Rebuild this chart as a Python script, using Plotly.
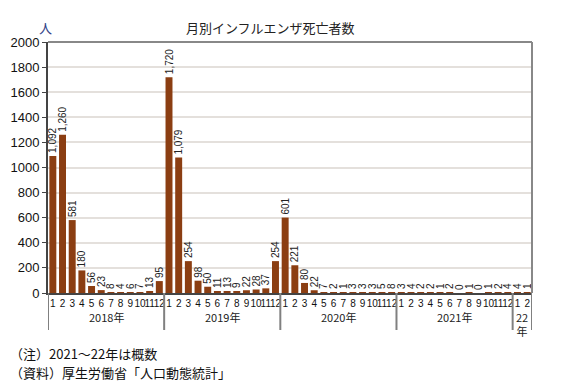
import plotly.graph_objects as go

years = ["2018年", "2019年", "2020年", "2021年", "22<br>年"]
months_per_year = [12, 12, 12, 12, 2]
deaths = [
    1092, 1260, 581, 180, 56, 23, 8, 4, 6, 7, 13, 95,
    1720, 1079, 254, 98, 50, 11, 13, 9, 22, 28, 37, 254,
    601, 221, 80, 22, 7, 2, 1, 3, 3, 3, 5, 8,
    3, 4, 2, 2, 1, 2, 0, 1, 0, 1, 2, 4,
    4, 1,
]
month_labels = [str(m) for n in months_per_year for m in range(1, n + 1)]
yticks = list(range(0, 2001, 200))

x = list(range(len(deaths)))
font_jp = "Noto Sans CJK JP, Liberation Sans, sans-serif"
font_num = "Liberation Sans, Arial, sans-serif"

# page body has an 8px margin; figure is sized to fill the rest of the window
W, H = 556, 376
L, R, T, B = 40, 32, 34, 91
PW, PH = W - L - R, H - T - B

fig = go.Figure()
fig.add_trace(go.Bar(
    x=x, y=deaths,
    marker=dict(color="#8B3E12", line=dict(width=0)),
    width=0.72,
    text=[f"{v:,}" for v in deaths],
    textposition="outside",
    textangle=-90,
    textfont=dict(family=font_num, size=10, color="#222"),
    constraintext="none",
    cliponaxis=False,
    hoverinfo="skip",
))

shapes = []
annotations = []
bounds = [0]
for n in months_per_year:
    bounds.append(bounds[-1] + n)
for b in bounds:
    shapes.append(dict(type="line", xref="x", yref="paper", x0=b - 0.5, x1=b - 0.5,
                       y0=0, y1=-37 / PH, line=dict(color="#808080", width=2)))
for i, yl in enumerate(years):
    c = (bounds[i] + bounds[i + 1] - 1) / 2
    annotations.append(dict(x=c, y=-14 / PH, xref="x", yref="paper", text=yl,
                            showarrow=False, yanchor="top",
                            font=dict(family=font_jp, size=11, color="#222")))
shapes.append(dict(type="line", xref="paper", yref="paper", x0=0, x1=1, y0=1, y1=1,
                   line=dict(color="#888", width=2)))
shapes.append(dict(type="line", xref="paper", yref="paper", x0=1, x1=1, y0=0, y1=1,
                   line=dict(color="#888", width=2)))

annotations.append(dict(x=(262 - L) / PW, y=1 + 15 / PH, xref="paper", yref="paper",
                        text="月別インフルエンザ死亡者数",
                        showarrow=False, yanchor="middle", xanchor="center",
                        font=dict(family=font_jp, size=13, color="#222")))
annotations.append(dict(x=(37 - L) / PW, y=1 + 15 / PH, xref="paper", yref="paper", text="人",
                        showarrow=False, yanchor="middle", xanchor="center",
                        font=dict(family=font_jp, size=13, color="#334488")))
annotations.append(dict(x=-L / PW, y=-60 / PH, xref="paper", yref="paper",
                        text="（注）2021～22年は概数", showarrow=False,
                        xanchor="left", yanchor="middle",
                        font=dict(family=font_jp, size=13, color="#111")))
annotations.append(dict(x=-L / PW, y=-79 / PH, xref="paper", yref="paper",
                        text="（資料）厚生労働省「人口動態統計」", showarrow=False,
                        xanchor="left", yanchor="middle",
                        font=dict(family=font_jp, size=13, color="#111")))

fig.update_layout(
    width=W, height=H,
    margin=dict(l=L, r=R, t=T, b=B, autoexpand=False),
    paper_bgcolor="white", plot_bgcolor="white",
    showlegend=False,
    shapes=shapes, annotations=annotations,
)
fig.update_xaxes(
    range=[-0.5, len(deaths) - 0.5],
    tickmode="array", tickvals=x, ticktext=month_labels, tickangle=0,
    tickfont=dict(family=font_num, size=10, color="#111"),
    showline=True, linecolor="#444", linewidth=2,
    showgrid=False, ticks="", ticklen=0,
)
fig.update_yaxes(
    range=[0, 2000],
    tickmode="array", tickvals=yticks, ticktext=[str(v) for v in yticks],
    tickfont=dict(family=font_num, size=13, color="#111"),
    showline=True, linecolor="#444", linewidth=2,
    ticks="outside", ticklen=4, tickcolor="#444",
    showgrid=True, gridcolor="#e4e0dc", gridwidth=1.5,
    zeroline=False,
)

fig.write_html("out.html")
